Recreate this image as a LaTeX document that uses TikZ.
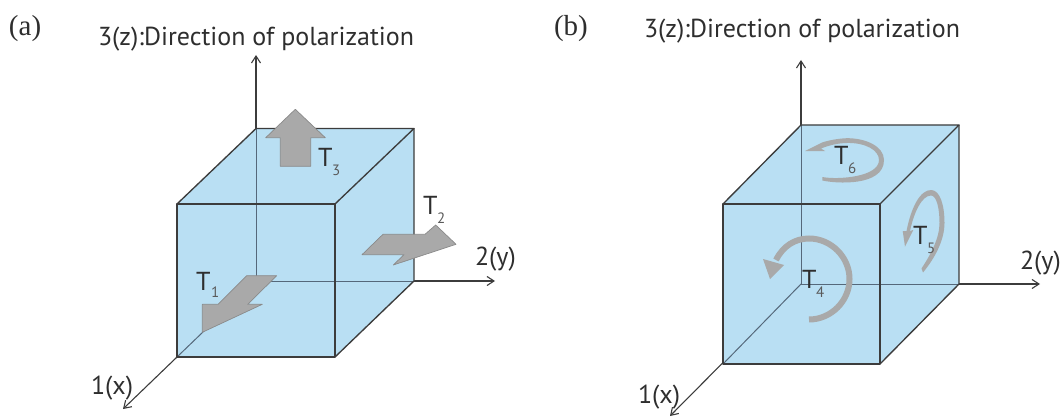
\documentclass[tikz,border=0pt]{standalone}
\usepackage{fontspec}
\setmainfont{PT Sans}
\newfontfamily\serifpart{Liberation Serif}
\usetikzlibrary{arrows.meta}
\definecolor{cubeblue}{HTML}{B9DFF3}
\definecolor{arrowgrey}{HTML}{A9A9A9}
\definecolor{edgegrey}{HTML}{8A8A8A}
\definecolor{axisdark}{HTML}{3C3C3C}
\definecolor{hiddenline}{HTML}{55687A}
\definecolor{inkdark}{HTML}{2E2E2E}
\definecolor{subgrey}{HTML}{5A5A5A}
\tikzset{
  face/.style={fill=cubeblue,draw=none},
  edge/.style={draw=axisdark,line width=1.35pt,line join=round},
  axisline/.style={draw=axisdark,line width=1.1pt,-{Straight Barb[length=7pt,width=9pt,line width=1.1pt]}},
  hidden/.style={draw=hiddenline,line width=1pt},
  bigarrow/.style={fill=arrowgrey,draw=edgegrey,line width=0.7pt,line join=round},
  twist/.style={draw=arrowgrey,line width=6pt},
  twisthead/.style={fill=arrowgrey,draw=none},
  lbl/.style={anchor=base west,inner sep=0pt,outer sep=0pt,text=inkdark,font=\fontsize{26}{29}\selectfont},
  panel/.style={anchor=base west,inner sep=0pt,outer sep=0pt,text=inkdark,font=\serifpart\fontsize{29}{32}\selectfont},
  tsym/.style={anchor=base west,inner sep=0pt,outer sep=0pt,text=inkdark,font=\fontsize{26}{28}\selectfont},
  tsub/.style={anchor=base west,inner sep=0pt,outer sep=0pt,text=subgrey,font=\fontsize{15}{17}\selectfont},
}
\begin{document}
\begin{tikzpicture}[x=1pt,y=-1pt]
\useasboundingbox (0,0) rectangle (1062,417);
% ---------- panel (a)
\coordinate (aO) at (256,281);
\coordinate (aZ) at (256,55);
\coordinate (aY) at (495,281);
\coordinate (aX) at (123,409);
\coordinate (aA) at (177,204);
\coordinate (aB) at (335,204);
\coordinate (aC) at (335,357);
\coordinate (aD) at (177,357);
\coordinate (aE) at (256,128.5);
\coordinate (aF) at (414,128.5);
\coordinate (aG) at (414,281);
\draw[axisline] (aO) -- (aZ);
\draw[axisline] (aO) -- (aY);
\draw[axisline] (aO) -- (aX);
\fill[face] (aA) -- (aE) -- (aF) -- (aG) -- (aC) -- (aD) -- cycle;
\draw[hidden] (aO) -- (aE);
\draw[hidden] (aO) -- (aG);
\draw[hidden] (aO) -- (aD);
\draw[edge] (aA) -- (aB) -- (aC) -- (aD) -- cycle;
\draw[edge] (aA) -- (aE) -- (aF) -- (aB);
\draw[edge] (aF) -- (aG) -- (aC);
\draw[bigarrow] (295.3,109.3) -- (325.3,137.7) -- (310.7,137.7) -- (310.7,166.3) -- (280.3,166.3) -- (280.3,137.7) -- (265.7,137.7) -- cycle;
\draw[bigarrow] (362,254.7) -- (383,234.3) -- (425,234.3) -- (435.7,225) -- (456,244.3) -- (393.3,265) -- (404,254.7) -- cycle;
\draw[bigarrow] (202.3,332.3) -- (202.3,304.3) -- (218,304.3) -- (246.7,275.7) -- (276.7,275.7) -- (247.7,304.3) -- (262.3,304.3) -- cycle;
\node[panel] (alabel) at (9,36) {(a)};
\node[lbl] (az) at (98,46) {3(z):Direction of polarization};
\node[lbl] (ay) at (475,265) {2(y)};
\node[lbl] (ax) at (91,394) {1(x)};
\node[tsym] (t1) at (196,290) {T};
\node[tsub] (s1) at (211,297) {1};
\node[tsym] (t2) at (423,214) {T};
\node[tsub] (s2) at (437,223) {2};
\node[tsym] (t3) at (318,166) {T};
\node[tsub] (s3) at (332,175) {3};
% ---------- panel (b)
\coordinate (bO) at (801,284);
\coordinate (bZ) at (801,60);
\coordinate (bY) at (1040,284);
\coordinate (bX) at (670,416);
\coordinate (bA) at (723,204);
\coordinate (bB) at (880,204);
\coordinate (bC) at (880,364);
\coordinate (bD) at (723,364);
\coordinate (bE) at (801,125);
\coordinate (bF) at (959,125);
\coordinate (bG) at (959,284);
\draw[axisline] (bO) -- (bZ);
\draw[axisline] (bO) -- (bY);
\draw[axisline] (bO) -- (bX);
\fill[face] (bA) -- (bE) -- (bF) -- (bG) -- (bC) -- (bD) -- cycle;
\draw[hidden] (bO) -- (bE);
\draw[hidden] (bO) -- (bG);
\draw[hidden] (bO) -- (bD);
\draw[edge] (bA) -- (bB) -- (bC) -- (bD) -- cycle;
\draw[edge] (bA) -- (bE) -- (bF) -- (bB);
\draw[edge] (bF) -- (bG) -- (bC);
% T4
\draw[twist] (809,319.5) .. controls (831,319.5) and (849.5,301) .. (849.5,279) .. controls (849.5,257) and (831,238.5) .. (809,238.5) .. controls (795,238.5) and (783,246) .. (776,260);
\fill[twisthead] (770,279) -- (763,259) -- (784,265) -- cycle;
% T6
\fill[twisthead] (822.3,180.5) .. controls (835,183.5) and (884,187) .. (884,160) .. controls (884,146) and (865,138) .. (846.7,138.2) .. controls (838,138.5) and (828,140.5) .. (822,142.5) -- (805,151) -- (825,151) -- (821,148.5) .. controls (830,145) and (838,143.2) .. (846.7,143) .. controls (865,142.5) and (879,150) .. (879,160) .. controls (879,177) and (838,180) .. (822.3,177) -- cycle;
% T5
\fill[twisthead] (923,272.5) .. controls (935,258) and (944.5,240) .. (944.5,223) .. controls (944.5,205) and (940,190.5) .. (931.5,190) .. controls (920,189.5) and (911,208) .. (906.5,231) -- (902.7,231) -- (905,246.7) -- (913.3,230) -- (910,231) .. controls (914,212) and (922,195.5) .. (931,195.5) .. controls (936.5,195.5) and (939.5,208) .. (939.5,223) .. controls (939.5,238) and (931,254) .. (921.5,268.5) -- cycle;
\node[panel] (blabel) at (554,36) {(b)};
\node[lbl] (bzl) at (644,38) {3(z):Direction of polarization};
\node[lbl] (byl) at (1020,269) {2(y)};
\node[lbl] (bxl) at (638,403) {1(x)};
\node[tsym] (t4) at (802,288) {T};
\node[tsub] (s4) at (816,297) {4};
\node[tsym] (t5) at (913,244) {T};
\node[tsub] (s5) at (927,253) {5};
\node[tsym] (t6) at (834,164) {T};
\node[tsub] (s6) at (848,173) {6};
\end{tikzpicture}
\end{document}
